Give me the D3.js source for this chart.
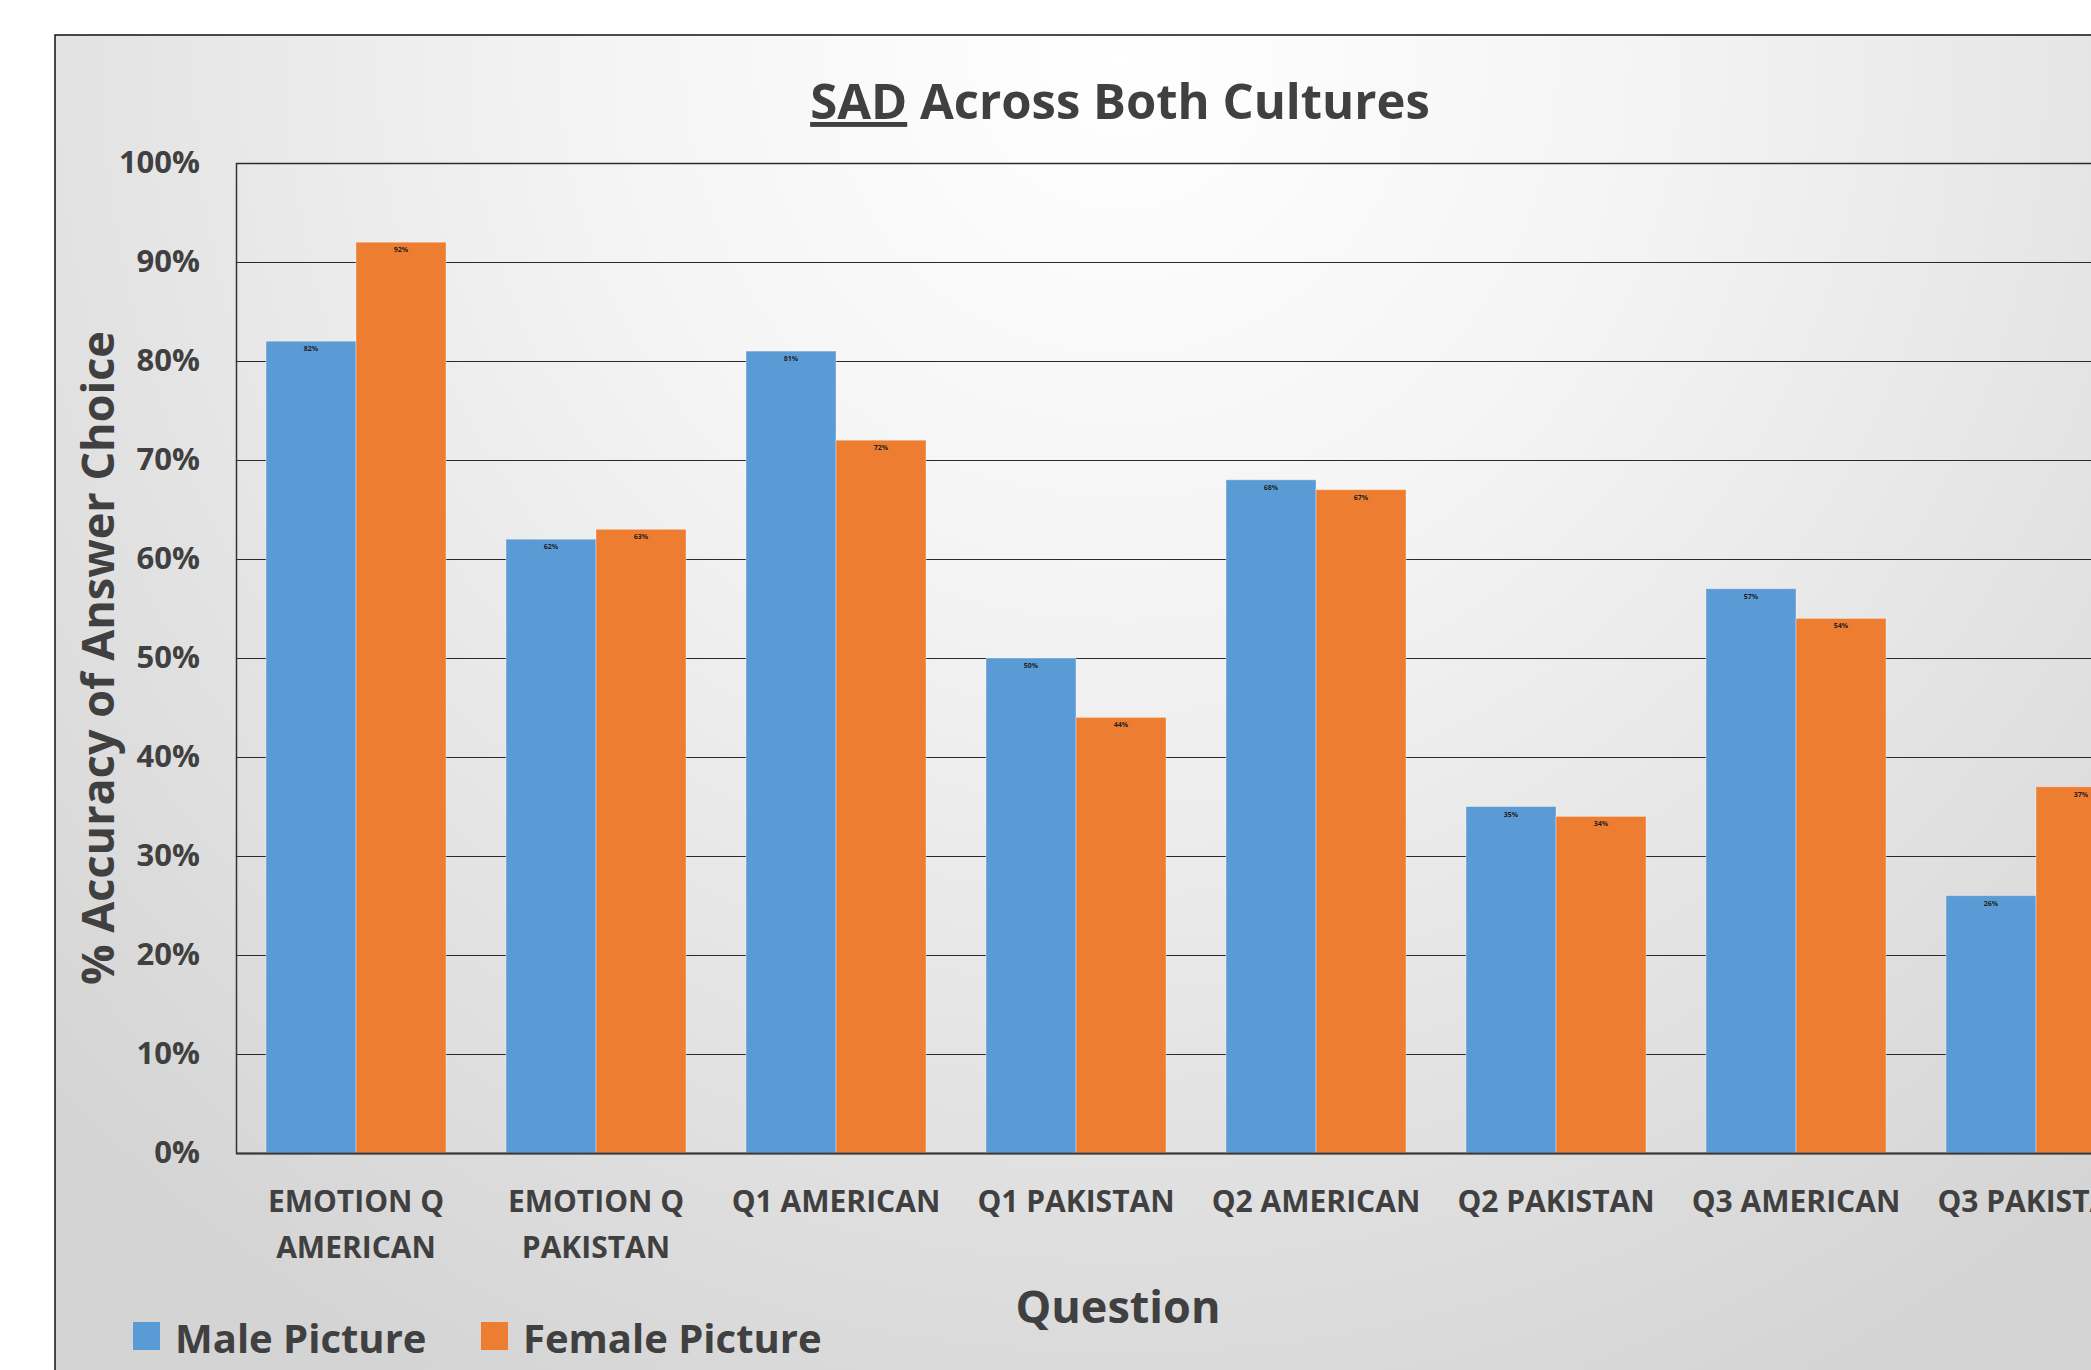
<!DOCTYPE html>
<html>
<head>
<meta charset="utf-8">
<script src="https://cdn.jsdelivr.net/npm/d3@7"></script>
<style>
  body { margin: 0; background: #fff; }
  svg { display: block; }
</style>
</head>
<body>
<div id="chart"></div>
<script>
// chart values
var questions = ["EMOTION Q|AMERICAN", "EMOTION Q|PAKISTAN", "Q1 AMERICAN", "Q1 PAKISTAN",
                 "Q2 AMERICAN", "Q2 PAKISTAN", "Q3 AMERICAN", "Q3 PAKISTAN"];
var maleValues = [0.82, 0.62, 0.81, 0.50, 0.68, 0.35, 0.57, 0.26];
var femaleValues = [0.92, 0.63, 0.72, 0.44, 0.67, 0.34, 0.54, 0.37];
var seriesNames = ["Male Picture", "Female Picture"];
var yTicks = [0, 0.1, 0.2, 0.3, 0.4, 0.5, 0.6, 0.7, 0.8, 0.9, 1.0];

var svgWidth = 2091, svgHeight = 1370;
var font = "'Open Sans', 'Noto Sans', sans-serif";
var textColor = "#404040";
var colors = ["#5B9BD5", "#ED7D31"];

// plot area (the chart runs off the right edge of the picture)
var plot = { left: 236, top: 163, right: 2156, bottom: 1153 };

var svg = d3.select("#chart").append("svg")
    .attr("width", svgWidth)
    .attr("height", svgHeight);

// background gradient
var defs = svg.append("defs");
var grad = defs.append("radialGradient")
    .attr("id", "bg")
    .attr("gradientUnits", "userSpaceOnUse")
    .attr("cx", 1120).attr("cy", 60).attr("r", 1500);
grad.append("stop").attr("offset", "0%").attr("stop-color", "#ffffff");
grad.append("stop").attr("offset", "35%").attr("stop-color", "#f4f4f4");
grad.append("stop").attr("offset", "100%").attr("stop-color", "#d4d4d4");

svg.append("rect")
    .attr("x", 55).attr("y", 35)
    .attr("width", 2200).attr("height", 1400)
    .attr("fill", "url(#bg)")
    .attr("stroke", "#111")
    .attr("stroke-width", 1.5);

// scales
var x = d3.scaleBand()
    .domain(questions)
    .range([plot.left, plot.right])
    .paddingInner(0.25)
    .paddingOuter(0.125);

var xInner = d3.scaleBand()
    .domain([0, 1])
    .range([0, x.bandwidth()]);

var y = d3.scaleLinear()
    .domain([0, 1])
    .range([plot.bottom, plot.top]);

// y axis with gridlines
var yAxis = d3.axisLeft(y)
    .tickValues(yTicks)
    .tickFormat(d3.format(".0%"))
    .tickSize(-(plot.right - plot.left))
    .tickPadding(36);

var yG = svg.append("g")
    .attr("transform", `translate(${plot.left},0)`)
    .call(yAxis);
yG.select(".domain").attr("stroke", "#333").attr("stroke-width", 1.5);
yG.selectAll(".tick line").attr("stroke", "#2a2a2a").attr("stroke-width", 1.2);
yG.selectAll(".tick text")
    .attr("font-family", font)
    .attr("font-size", 31)
    .attr("font-weight", 700)
    .attr("fill", textColor);

// bars
var rows = questions.map(function (q, i) {
    return { q: q, values: [maleValues[i], femaleValues[i]] };
});

var groups = svg.append("g").selectAll("g")
    .data(rows)
    .enter()
    .append("g")
    .attr("transform", d => `translate(${x(d.q)},0)`);

groups.selectAll("rect")
    .data(d => d.values)
    .enter()
    .append("rect")
    .attr("x", (d, i) => xInner(i))
    .attr("y", d => y(d))
    .attr("width", xInner.bandwidth())
    .attr("height", d => y(0) - y(d))
    .attr("fill", (d, i) => colors[i])
    .attr("stroke", "rgba(255,255,255,0.35)")
    .attr("stroke-width", 1);

groups.selectAll("text")
    .data(d => d.values)
    .enter()
    .append("text")
    .attr("x", (d, i) => xInner(i) + xInner.bandwidth() / 2)
    .attr("y", d => y(d) + 10)
    .attr("text-anchor", "middle")
    .attr("font-family", font)
    .attr("font-size", 7)
    .attr("font-weight", 700)
    .attr("fill", "#1e1e1e")
    .text(d => Math.round(d * 100) + "%");

// x axis
var xAxis = d3.axisBottom(x).tickSize(0).tickSizeOuter(0);
var xG = svg.append("g")
    .attr("transform", `translate(0,${plot.bottom})`)
    .call(xAxis);
xG.select(".domain").attr("stroke", "#3a3a3a").attr("stroke-width", 2);
xG.selectAll(".tick text").each(function (d) {
    var t = d3.select(this).text("").attr("dy", null).attr("y", 59)
        .attr("font-family", font)
        .attr("font-size", 30)
        .attr("font-weight", 700)
        .attr("fill", textColor);
    d.split("|").forEach(function (line, i) {
        t.append("tspan").attr("x", 0).attr("dy", i ? 46 : 0).text(line);
    });
});

// title
var title = svg.append("text")
    .attr("x", 1120).attr("y", 119)
    .attr("text-anchor", "middle")
    .attr("font-family", font)
    .attr("font-size", 49)
    .attr("font-weight", 700)
    .attr("fill", textColor);
title.append("tspan").attr("text-decoration", "underline").text("SAD");
title.append("tspan").text(" Across Both Cultures");

// axis titles
svg.append("text")
    .attr("transform", `translate(${plot.left - 122}, ${(plot.top + plot.bottom) / 2}) rotate(-90)`)
    .attr("text-anchor", "middle")
    .attr("font-family", font)
    .attr("font-size", 45)
    .attr("font-weight", 700)
    .attr("fill", textColor)
    .text("% Accuracy of Answer Choice");

svg.append("text")
    .attr("x", 1118).attr("y", 1323)
    .attr("text-anchor", "middle")
    .attr("font-family", font)
    .attr("font-size", 45)
    .attr("font-weight", 700)
    .attr("fill", textColor)
    .text("Question");

// legend
var legendX = [133, 481];
var legend = svg.append("g").selectAll("g")
    .data(seriesNames)
    .enter()
    .append("g")
    .attr("transform", (d, i) => `translate(${legendX[i]},1322)`);
legend.append("rect")
    .attr("width", 27).attr("height", 28)
    .attr("fill", (d, i) => colors[i]);
legend.append("text")
    .attr("x", 42).attr("y", 31)
    .attr("font-family", font)
    .attr("font-size", 40)
    .attr("font-weight", 700)
    .attr("fill", textColor)
    .text(d => d);
</script>
</body>
</html>
